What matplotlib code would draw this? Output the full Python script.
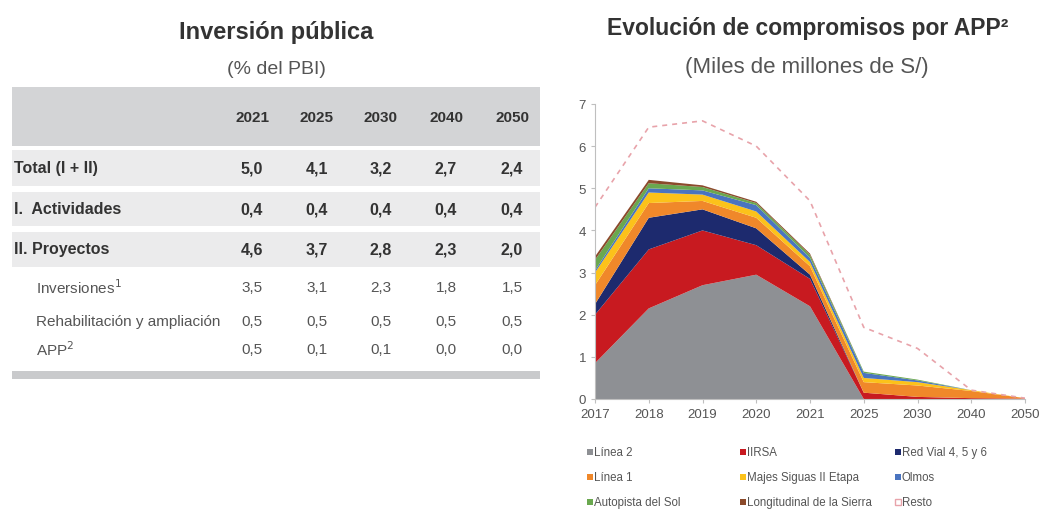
import matplotlib.pyplot as plt
import matplotlib.patches as patches
import numpy as np

plt.rcParams['font.family'] = ['Liberation Sans', 'DejaVu Sans']

# ---- table data ----
table_years = ['2021', '2025', '2030', '2040', '2050']
row_labels = ['Total (I + II)', 'I.  Actividades', 'II. Proyectos',
              'Inversiones$^{1}$', 'Rehabilitación y ampliación', 'APP$^{2}$']
row_values = [
    ['5,0', '4,1', '3,2', '2,7', '2,4'],
    ['0,4', '0,4', '0,4', '0,4', '0,4'],
    ['4,6', '3,7', '2,8', '2,3', '2,0'],
    ['3,5', '3,1', '2,3', '1,8', '1,5'],
    ['0,5', '0,5', '0,5', '0,5', '0,5'],
    ['0,5', '0,1', '0,1', '0,0', '0,0'],
]

# ---- chart data (Miles de millones de S/) ----
years = ['2017', '2018', '2019', '2020', '2021', '2025', '2030', '2040', '2050']
linea2 = [0.85, 2.15, 2.70, 2.95, 2.20, 0.00, 0.00, 0.00, 0.00]
iirsa = [1.15, 1.40, 1.30, 0.70, 0.65, 0.15, 0.05, 0.02, 0.01]
red_vial = [0.25, 0.75, 0.50, 0.40, 0.10, 0.00, 0.00, 0.00, 0.00]
linea1 = [0.45, 0.35, 0.20, 0.25, 0.20, 0.25, 0.27, 0.17, 0.01]
majes = [0.30, 0.25, 0.15, 0.15, 0.10, 0.10, 0.08, 0.02, 0.00]
olmos = [0.05, 0.10, 0.10, 0.15, 0.10, 0.12, 0.04, 0.00, 0.00]
autopista = [0.25, 0.12, 0.08, 0.05, 0.07, 0.03, 0.02, 0.00, 0.00]
longitudinal = [0.08, 0.08, 0.04, 0.03, 0.03, 0.00, 0.00, 0.00, 0.00]
resto = [1.17, 1.25, 1.53, 1.32, 1.25, 1.05, 0.74, 0.00, 0.00]

series_names = ['Línea 2', 'IIRSA', 'Red Vial 4, 5 y 6', 'Línea 1',
                'Majes Siguas II Etapa', 'Olmos', 'Autopista del Sol',
                'Longitudinal de la Sierra', 'Resto']
series = [linea2, iirsa, red_vial, linea1, majes, olmos, autopista, longitudinal, resto]
colors = ['#8e9094', '#c81a20', '#1d2a6e', '#f0882a', '#fcc21a', '#4a74c0',
          '#6aa84f', '#8b4a2b', '#e8a3aa']

fig = plt.figure(figsize=(10.39, 5.10), dpi=100)

# full-figure canvas in pixel coordinates
bg = fig.add_axes([0, 0, 1, 1])
bg.set_xlim(0, 1039)
bg.set_ylim(510, 0)
bg.axis('off')

# ---- left: table ----
bg.text(276, 32, 'Inversión pública', ha='center', va='center',
        fontsize=17, fontweight='bold', color='#333333')
bg.text(276, 70, '(% del PBI)', ha='center', va='center', fontsize=14, color='#555555')

bg.add_patch(patches.Rectangle((12, 88), 528, 59, facecolor='#d3d4d6', edgecolor='none'))
col_x = [252, 317, 381, 446, 512]
for x, y in zip(col_x, table_years):
    bg.text(x, 118, y, ha='center', va='center', fontsize=11, fontweight='bold', color='#333333')

row_y = [169, 210, 250, 288, 322, 350]
bands = [(151, 187), (193, 227), (233, 268)]
for y0, y1 in bands:
    bg.add_patch(patches.Rectangle((12, y0), 528, y1 - y0, facecolor='#ebebec', edgecolor='none'))
bg.add_patch(patches.Rectangle((12, 372), 528, 8, facecolor='#c9cacc', edgecolor='none'))

for i, (lab, vals) in enumerate(zip(row_labels, row_values)):
    bold = i < 3
    lx = 14 if bold else 36
    fs = 11.5 if bold else 11
    bg.text(lx, row_y[i], lab, ha='left', va='center', fontsize=fs,
            fontweight='bold' if bold else 'normal',
            color='#333333' if bold else '#555555')
    for x, v in zip(col_x, vals):
        bg.text(x, row_y[i], v, ha='center', va='center', fontsize=fs,
                fontweight='bold' if bold else 'normal',
                color='#333333' if bold else '#555555')

# ---- right: stacked area chart ----
bg.text(808, 28, 'Evolución de compromisos por APP²', ha='center', va='center',
        fontsize=16.5, fontweight='bold', color='#333333')
bg.text(807, 68, '(Miles de millones de S/)', ha='center', va='center',
        fontsize=16, color='#555555')

ax = fig.add_axes([595 / 1039, 110 / 510, 430 / 1039, 295 / 510])
x = np.arange(len(years))
data = np.array(series)
cum = np.vstack([np.zeros(len(years)), np.cumsum(data, axis=0)])
for i in range(len(series) - 1):
    ax.fill_between(x, cum[i], cum[i + 1], facecolor=colors[i], edgecolor='none', linewidth=0)
ax.plot(x, cum[-1], linestyle=(0, (3, 3)), color=colors[-1], linewidth=1.2)

ax.set_xlim(0, len(years) - 1)
ax.set_ylim(0, 7)
ax.set_xticks(x)
ax.set_xticklabels(years)
ax.set_yticks(range(0, 8))
for s in ['top', 'right']:
    ax.spines[s].set_visible(False)
for s in ['left', 'bottom']:
    ax.spines[s].set_color('#bfbfbf')
ax.tick_params(colors='#bfbfbf', labelcolor='#555555', labelsize=9.5, length=3)

# legend, drawn row by row in three columns
leg_cols = [590, 743, 898]
leg_rows = [453, 478, 503]
for i, name in enumerate(series_names):
    lx = leg_cols[i % 3]
    ly = leg_rows[i // 3]
    if i < len(series_names) - 1:
        bg.add_patch(patches.Rectangle((lx - 3, ly - 3), 6, 6, facecolor=colors[i], edgecolor='none'))
    else:
        bg.add_patch(patches.Rectangle((lx - 3, ly - 3), 6, 6, facecolor='white',
                                       edgecolor=colors[i], linewidth=1))
    bg.text(lx + 4, ly, name, ha='left', va='center', fontsize=8.3, color='#555555')

plt.savefig('out.png', dpi=100, facecolor='white')
